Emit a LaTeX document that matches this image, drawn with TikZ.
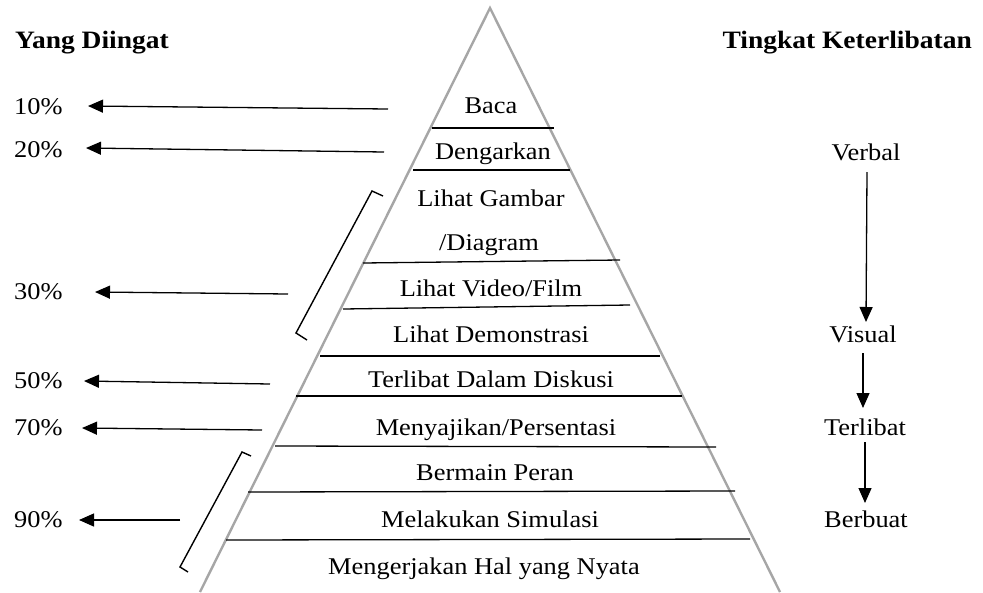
\documentclass[tikz,border=0pt]{standalone}
\usepackage{fontspec}
\setmainfont{Liberation Serif}[FakeStretch=1.1]
\usetikzlibrary{arrows.meta}
\begin{document}
\begin{tikzpicture}[x=1pt,y=-1pt,
  txt/.style={inner sep=0pt,anchor=base,font=\fontsize{24}{28}\selectfont},
  hdr/.style={inner sep=0pt,anchor=base,font=\fontsize{25}{29}\selectfont\bfseries},
  pyr/.style={draw=black!35,line width=2.4pt,line join=miter},
  tier/.style={draw=black,line width=1.3pt},
  brk/.style={draw=black,line width=1.4pt},
  arr/.style={draw=black,line width=1.3pt,-{Triangle[length=15pt,width=13pt]}}]
\useasboundingbox (0,0) rectangle (983,592);
% pyramid
\draw[pyr] (200,592) -- (490,8) -- (780,592);
% tier lines
\draw[tier] (432,128) -- (554,128);
\draw[tier] (413,170) -- (570,170);
\draw[tier] (363,263) -- (620,260);
\draw[tier] (343,309) -- (630,305);
\draw[tier] (320,356) -- (660,356);
\draw[tier] (296,396) -- (682,396);
\draw[tier] (275,446) -- (716,447);
\draw[tier] (248,492) -- (735,491);
\draw[tier] (226,540) -- (750,539);
% tier texts
\node[txt] (t1) at (491,113) {Baca};
\node[txt] (t2) at (493,159) {Dengarkan};
\node[txt] (t3) at (491,206) {Lihat Gambar};
\node[txt] (t3b) at (489,250) {/Diagram};
\node[txt] (t4) at (491,296) {Lihat Video/Film};
\node[txt] (t5) at (491,342) {Lihat Demonstrasi};
\node[txt] (t6) at (491,387) {Terlibat Dalam Diskusi};
\node[txt] (t7) at (496,435) {Menyajikan/Persentasi};
\node[txt] (t8) at (495,480) {Bermain Peran};
\node[txt] (t9) at (490,527) {Melakukan Simulasi};
\node[txt] (t10) at (484,574) {Mengerjakan Hal yang Nyata};
% headers
\node[hdr,anchor=base west] (hl) at (15,48) {Yang Diingat};
\node[hdr,anchor=base east] (hr) at (972,48) {Tingkat Keterlibatan};
% percentages
\node[txt,anchor=base west] (p10) at (14,114) {10\%};
\node[txt,anchor=base west] (p20) at (14,157) {20\%};
\node[txt,anchor=base west] (p30) at (14,299) {30\%};
\node[txt,anchor=base west] (p50) at (14,388) {50\%};
\node[txt,anchor=base west] (p70) at (14,435) {70\%};
\node[txt,anchor=base west] (p90) at (14,527) {90\%};
% left arrows
\coordinate (a10s) at (388,109); \coordinate (a10e) at (88,106);
\coordinate (a20s) at (384,152); \coordinate (a20e) at (86,148);
\coordinate (a30s) at (288,294); \coordinate (a30e) at (95,292);
\coordinate (a50s) at (270,384); \coordinate (a50e) at (84,381);
\coordinate (a70s) at (262,430); \coordinate (a70e) at (82,428);
\coordinate (a90s) at (180,520); \coordinate (a90e) at (79,520);
\draw[arr] (a10s) -- (a10e);
\draw[arr] (a20s) -- (a20e);
\draw[arr] (a30s) -- (a30e);
\draw[arr] (a50s) -- (a50e);
\draw[arr] (a70s) -- (a70e);
\draw[arr] (a90s) -- (a90e);
% brackets
\draw[brk] (383,196) -- (372,191) -- (296,333) -- (307,340);
\draw[brk] (251,456) -- (242,452) -- (180,567) -- (188,572);
% right side
\node[txt] (verbal) at (866,160) {Verbal};
\node[txt] (visual) at (863,342) {Visual};
\node[txt] (terlibat) at (865,435) {Terlibat};
\node[txt] (berbuat) at (866,527) {Berbuat};
\coordinate (r1s) at (867,172); \coordinate (r1e) at (866,322);
\coordinate (r2s) at (863,353); \coordinate (r2e) at (863,408);
\coordinate (r3s) at (865,442); \coordinate (r3e) at (865,503);
\draw[arr] (r1s) -- (r1e);
\draw[arr] (r2s) -- (r2e);
\draw[arr] (r3s) -- (r3e);
\end{tikzpicture}
\end{document}
